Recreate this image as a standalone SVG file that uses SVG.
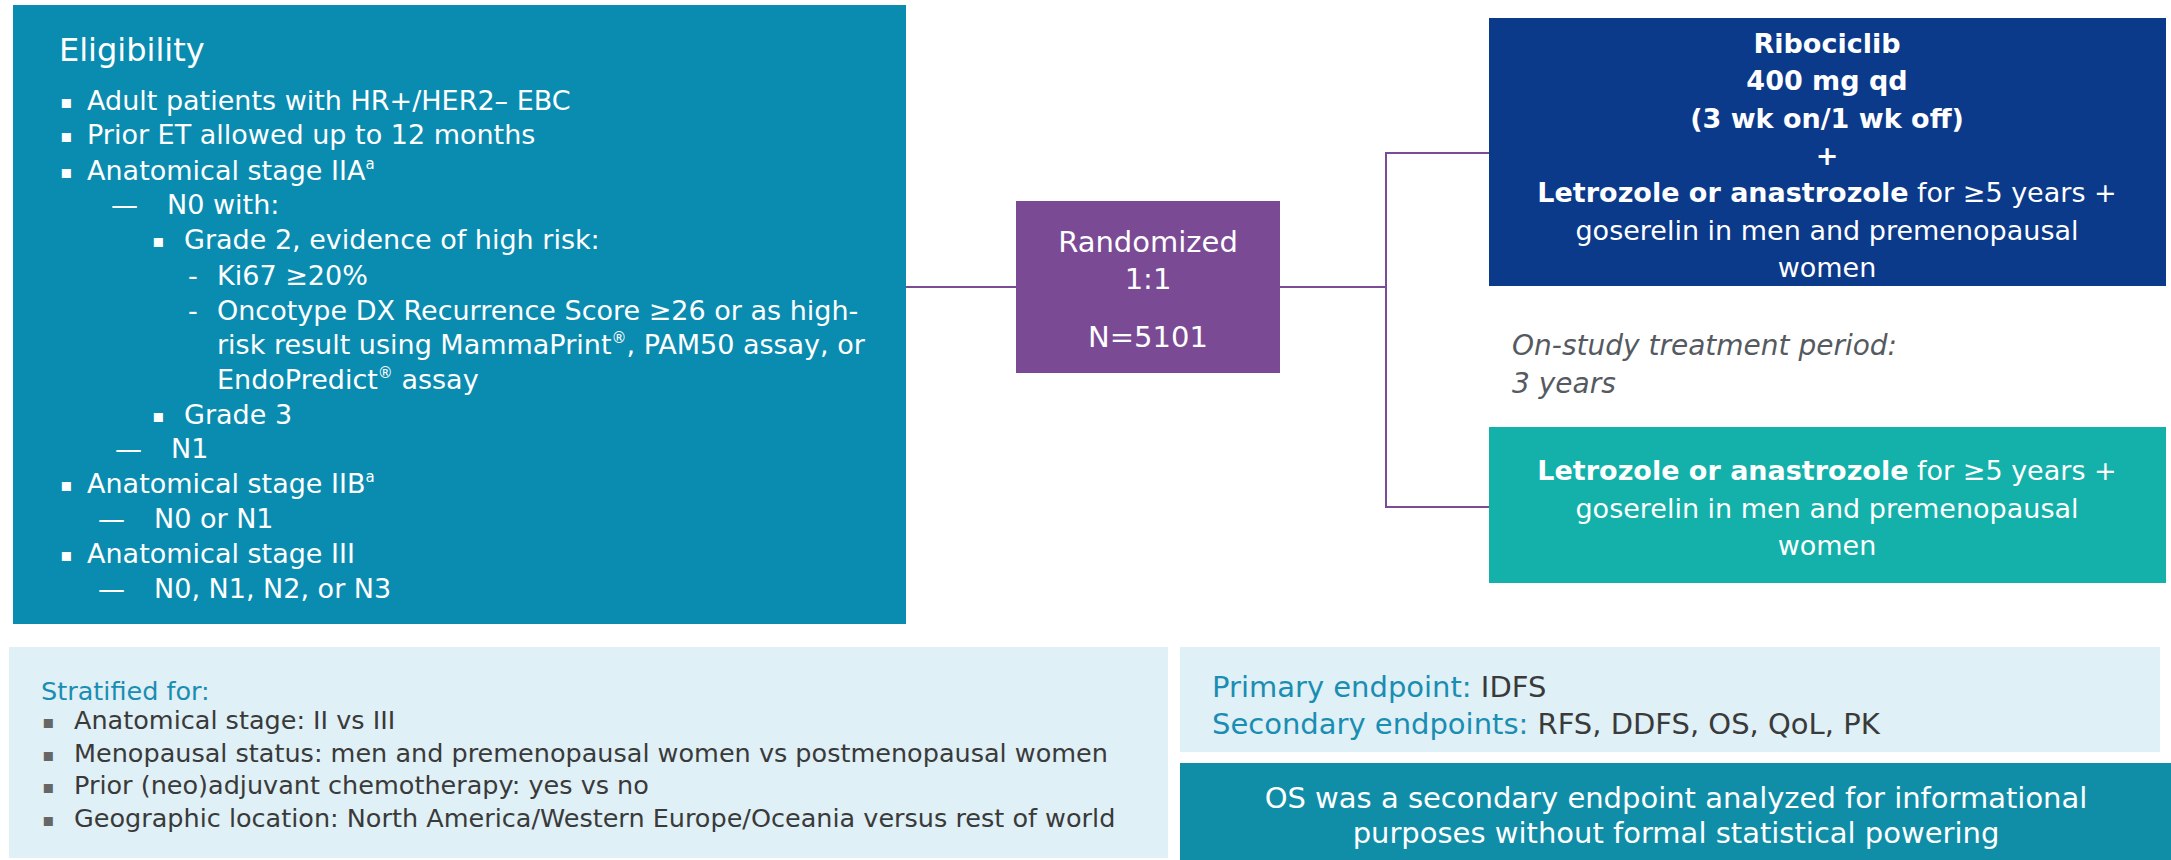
<svg xmlns="http://www.w3.org/2000/svg" width="2171" height="860" viewBox="0 0 2171 860">
<style>
text{font-family:"DejaVu Sans","Liberation Sans",sans-serif;}
.el{font-size:27px;fill:#ffffff;}
.bul{font-size:18px;}
.ttl{font-size:32px;fill:#ffffff;}
.arm{font-size:27px;fill:#ffffff;text-anchor:middle;}
.b{font-weight:bold;}
.rnd{font-size:29px;fill:#ffffff;text-anchor:middle;}
.it{font-size:28px;font-style:italic;fill:#555a60;}
.st{font-size:25.5px;fill:#3a3a3a;}
.tl{fill:#1a8db3;}
.dk{fill:#3a3a3a;}
.ep{font-size:29px;}
.os{font-size:29px;fill:#ffffff;text-anchor:middle;}
.sup{font-size:15px;}
.conn{stroke:#7b4c96;stroke-width:2;fill:none;}
</style>
<g id="connectors">
<line class="conn" x1="906" y1="287" x2="1016" y2="287"/>
<line class="conn" x1="1280" y1="287" x2="1386" y2="287"/>
<polyline class="conn" points="1489,153 1386,153 1386,507 1489,507"/>
</g>
<g id="eligibility">
<rect x="13" y="5" width="893" height="619" fill="#0a8cb1"/>
<text class="ttl" x="59" y="61">Eligibility</text>
<g class="el">
<text class="bul" x="60" y="108">▪</text><text x="87" y="110">Adult patients with HR+/HER2– EBC</text>
<text class="bul" x="60" y="142">▪</text><text x="87" y="144">Prior ET allowed up to 12 months</text>
<text class="bul" x="60" y="178">▪</text><text x="87" y="180">Anatomical stage IIA<tspan class="sup" dy="-11">a</tspan></text>
<text x="111" y="214">—</text><text x="167" y="214">N0 with:</text>
<text class="bul" x="152" y="247">▪</text><text x="184" y="249">Grade 2, evidence of high risk:</text>
<text x="188" y="285">-</text><text x="217" y="285">Ki67 ≥20%</text>
<text x="188" y="320">-</text><text x="217" y="320">Oncotype DX Recurrence Score ≥26 or as high-</text>
<text x="217" y="354">risk result using MammaPrint<tspan class="sup" dy="-11">®</tspan><tspan dy="11">, PAM50 assay, or</tspan></text>
<text x="217" y="389">EndoPredict<tspan class="sup" dy="-11">®</tspan><tspan dy="11"> assay</tspan></text>
<text class="bul" x="152" y="422">▪</text><text x="184" y="424">Grade 3</text>
<text x="115" y="458">—</text><text x="171" y="458">N1</text>
<text class="bul" x="60" y="491">▪</text><text x="87" y="493">Anatomical stage IIB<tspan class="sup" dy="-11">a</tspan></text>
<text x="98" y="528">—</text><text x="154" y="528">N0 or N1</text>
<text class="bul" x="60" y="561">▪</text><text x="87" y="563">Anatomical stage III</text>
<text x="98" y="598">—</text><text x="154" y="598">N0, N1, N2, or N3</text>
</g>
</g>
<g id="randomized">
<rect x="1016" y="201" width="264" height="172" fill="#7a4a94"/>
<text class="rnd" x="1148" y="252">Randomized</text>
<text class="rnd" x="1148" y="289">1:1</text>
<text class="rnd" x="1148" y="347">N=5101</text>
</g>
<g id="ribociclib-arm">
<rect x="1489" y="18" width="677" height="268" fill="#0b3a8b"/>
<text class="arm b" x="1827" y="53">Ribociclib</text>
<text class="arm b" x="1827" y="90">400 mg qd</text>
<text class="arm b" x="1827" y="128">(3 wk on/1 wk off)</text>
<text class="arm b" x="1827" y="165">+</text>
<text class="arm" x="1827" y="202"><tspan class="b">Letrozole or anastrozole</tspan> for ≥5 years +</text>
<text class="arm" x="1827" y="240">goserelin in men and premenopausal</text>
<text class="arm" x="1827" y="277">women</text>
</g>
<g id="period">
<text class="it" x="1512" y="355">On-study treatment period:</text>
<text class="it" x="1512" y="393">3 years</text>
</g>
<g id="control-arm">
<rect x="1489" y="427" width="677" height="156" fill="#13b1a9"/>
<text class="arm" x="1827" y="480"><tspan class="b">Letrozole or anastrozole</tspan> for ≥5 years +</text>
<text class="arm" x="1827" y="518">goserelin in men and premenopausal</text>
<text class="arm" x="1827" y="555">women</text>
</g>
<g id="stratified">
<rect x="9" y="647" width="1159" height="211" fill="#dff0f6"/>
<text class="st tl" x="41" y="700">Stratified for:</text>
<g class="st">
<text x="42" y="728" font-size="18" fill="#666">▪</text><text x="74" y="729">Anatomical stage: II vs III</text>
<text x="42" y="761" font-size="18" fill="#666">▪</text><text x="74" y="762">Menopausal status: men and premenopausal women vs postmenopausal women</text>
<text x="42" y="793" font-size="18" fill="#666">▪</text><text x="74" y="794">Prior (neo)adjuvant chemotherapy: yes vs no</text>
<text x="42" y="826" font-size="18" fill="#666">▪</text><text x="74" y="827">Geographic location: North America/Western Europe/Oceania versus rest of world</text>
</g>
</g>
<g id="endpoints">
<rect x="1180" y="647" width="980" height="105" fill="#dff0f6"/>
<text class="ep" x="1212" y="697"><tspan class="tl">Primary endpoint:</tspan><tspan class="dk"> IDFS</tspan></text>
<text class="ep" x="1212" y="734"><tspan class="tl">Secondary endpoints:</tspan><tspan class="dk"> RFS, DDFS, OS, QoL, PK</tspan></text>
</g>
<g id="os-note">
<rect x="1180" y="763" width="991" height="97" fill="#108ea8"/>
<text class="os" x="1676" y="808">OS was a secondary endpoint analyzed for informational</text>
<text class="os" x="1676" y="843">purposes without formal statistical powering</text>
</g>
</svg>
